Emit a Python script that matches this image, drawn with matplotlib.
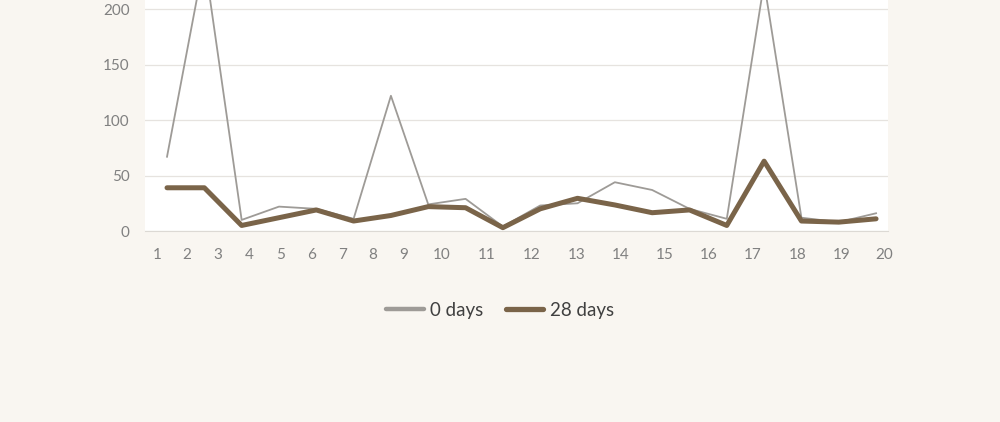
import matplotlib.pyplot as plt
from matplotlib.lines import Line2D
import numpy as np

plt.rcParams['font.family'] = ['Lato', 'DejaVu Sans']

# sample number and the two series
samples = np.arange(1, 21)
day0 = [67, 245, 10, 22, 20, 11, 122, 24, 29, 4, 23, 25, 44, 37, 20, 11, 224, 12, 8, 16]
day28 = [39, 39, 5, 12, 19, 9, 14, 22, 21, 3, 20, 29.5, 23.5, 16.5, 19, 5, 63, 9, 8, 11]
tick_labels = [str(i) for i in range(1, 21)]

# the category labels in the original do not sit under the points
label_pos = [0.73, 1.54, 2.37, 3.20, 4.03, 4.87, 5.70, 6.52, 7.35, 8.35,
             9.56, 10.77, 11.97, 13.15, 14.33, 15.51, 16.70, 17.91, 19.09, 20.22]

bg = '#f9f6f1'
fig = plt.figure(figsize=(10, 4.22), dpi=100, facecolor=bg)
ax = fig.add_axes([0.145, 0.4526, 0.743, 0.5474])
ax.set_facecolor('white')

ax.plot(samples, day0, color='#9e9b97', lw=1.3, zorder=3)
ax.plot(samples, day28, color='#7a6449', lw=3.6, solid_joinstyle='round',
        solid_capstyle='round', zorder=4)

ax.set_xlim(0.41, 20.32)
ax.set_ylim(0, 208.4)
ax.set_yticks([0, 50, 100, 150, 200])
ax.set_xticks(label_pos)
ax.set_xticklabels(tick_labels)
ax.grid(axis='y', color='#e6e3df', lw=0.9)
ax.set_axisbelow(True)
for s in ['top', 'right', 'left']:
    ax.spines[s].set_visible(False)
ax.spines['bottom'].set_color('#dcd9d4')
ax.tick_params(length=0, colors='#808080', labelsize=11)
ax.tick_params(axis='x', pad=12)
ax.tick_params(axis='y', pad=11)

handles = [Line2D([], [], color='#9e9b97', lw=3.2, solid_capstyle='round'),
           Line2D([], [], color='#7a6449', lw=3.8, solid_capstyle='round')]
fig.legend(handles, ['0 days', '28 days'], loc='center', bbox_to_anchor=(0.5, 0.265),
           ncol=2, frameon=False, fontsize=13.5, handlelength=2.0, handletextpad=0.35,
           columnspacing=1.2, labelcolor='#404040')

fig.savefig('out.png', dpi=100, facecolor=bg)
